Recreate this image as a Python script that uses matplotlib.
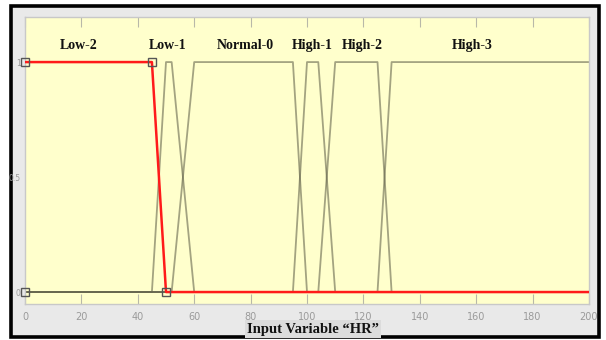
import matplotlib
matplotlib.use("Agg")
import matplotlib.pyplot as plt
from matplotlib.patches import Rectangle

# membership functions of input variable "HR" (breakpoints)
mf_names = ["Low-2", "Low-1", "Normal-0", "High-1", "High-2", "High-3"]
mf_x = [
    [0, 45, 50, 200],
    [0, 45, 50, 52, 60, 200],
    [0, 52, 60, 95, 100, 200],
    [0, 95, 100, 104, 110, 200],
    [0, 104, 110, 125, 130, 200],
    [0, 125, 130, 200],
]
mf_y = [
    [1, 1, 0, 0],
    [0, 0, 1, 1, 0, 0],
    [0, 0, 1, 1, 0, 0],
    [0, 0, 1, 1, 0, 0],
    [0, 0, 1, 1, 0, 0],
    [0, 0, 1, 1],
]
label_x = [19, 50.5, 78, 102, 119.5, 158.5]
selected = 0
handle_x = [0, 45, 0, 50]
handle_y = [1, 1, 0, 0]

x_ticks = [0, 20, 40, 60, 80, 100, 120, 140, 160, 180, 200]
y_ticks = [0, 0.5, 1]
y_ticklabels = ["0", "0.5", "1"]

fig = plt.figure(figsize=(6.06, 3.40), dpi=100)
fig.patch.set_facecolor("white")
fig.patches.append(Rectangle((11 / 606, 3 / 340), 588 / 606, 331 / 340,
                             transform=fig.transFigure, facecolor="#e9e9e9",
                             edgecolor="black", linewidth=2.6, zorder=-5))

ax = fig.add_axes([25 / 606, 36 / 340, 564 / 606, 287 / 340])
ax.set_zorder(2)
ax.set_facecolor("#ffffcc")

for i in range(len(mf_names)):
    if i != selected:
        ax.plot(mf_x[i], mf_y[i], color="#66664e", alpha=0.6, lw=1.3, zorder=2)
ax.plot(mf_x[selected], mf_y[selected], color="#ff1a1a", lw=1.8, zorder=3)
ax.plot(handle_x, handle_y, ls="none", marker="s", ms=6, mfc="none",
        mec="#555555", mew=1.0, zorder=4, clip_on=False)

for name, lx in zip(mf_names, label_x):
    ax.text(lx, 1.072, name, ha="center", va="center", fontsize=10,
            family="Liberation Serif", fontweight="bold", color="#111111")

ax.set_xlim(0, 200)
ax.set_ylim(-0.052, 1.196)
ax.set_xticks(x_ticks)
ax.set_xticklabels([str(t) for t in x_ticks], fontsize=7, color="#9a9a9a",
                   family=["Liberation Sans Narrow", "DejaVu Sans"])
ax.set_yticks(y_ticks)
ax.set_yticklabels(y_ticklabels, fontsize=5.5, color="#9a9a9a")
ax.tick_params(axis="x", direction="in", length=7, width=0.8, color="#b8b8a8",
               top=True, pad=6)
ax.tick_params(axis="y", length=0, pad=3)
for s in ax.spines.values():
    s.set_color("#c8c8c8")
    s.set_linewidth(1.0)

fig.text(313 / 606, 11 / 340, "Input Variable \u201cHR\u201d", ha="center", va="center",
         fontsize=10.5, family="Liberation Serif", fontweight="bold", color="#111111",
         zorder=3,
         bbox=dict(boxstyle="square,pad=0.15", facecolor="#dcdcdc", edgecolor="none"))

fig.savefig("out.png", dpi=100)
